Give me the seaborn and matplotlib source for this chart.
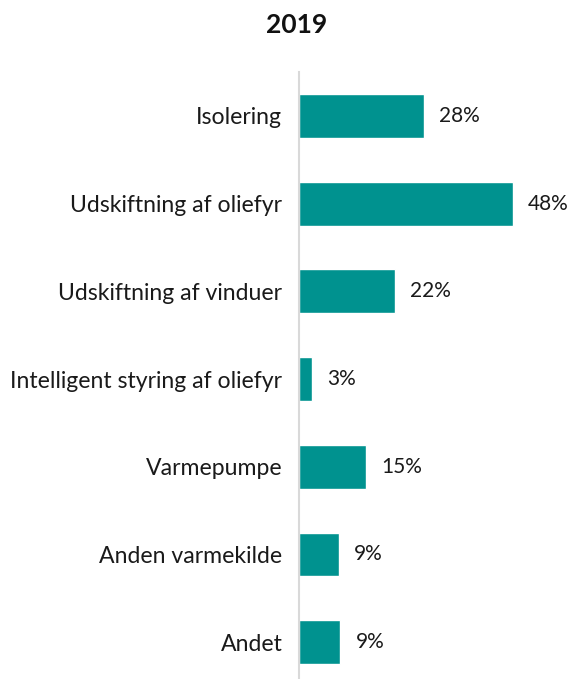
import numpy as np
import matplotlib
matplotlib.use("Agg")
import matplotlib.pyplot as plt
import seaborn as sns
import pandas as pd

# Data
categories = [
    "Isolering",
    "Udskiftning af oliefyr",
    "Udskiftning af vinduer",
    "Intelligent styring af oliefyr",
    "Varmepumpe",
    "Anden varmekilde",
    "Andet",
]
shares = [28, 48, 21.6, 3, 15, 9, 9.3]
share_labels = ["28%", "48%", "22%", "3%", "15%", "9%", "9%"]
title = "2019"

sns.set_style("white")
plt.rcParams["font.family"] = ["Lato", "DejaVu Sans"]

bar_color = "#00928F"

fig = plt.figure(figsize=(5.71, 6.79), dpi=100)
ax = fig.add_axes([299 / 571, 0, 272 / 571, 607 / 679])

df = pd.DataFrame({"category": categories, "share": shares})
sns.barplot(data=df, x="share", y="category", color=bar_color,
            saturation=1, width=0.5, ax=ax, orient="h")

ax.set_xlim(0, 61)
ax.set_ylim(6.42, -0.5)

# value labels to the right of each bar
for i, (v, lab) in enumerate(zip(shares, share_labels)):
    ax.text(v + 3.4, i, lab, va="center", ha="left", fontsize=15, color="#1a1a1a")

ax.set_xlabel("")
ax.set_ylabel("")
ax.set_xticks([])
ax.tick_params(axis="y", length=0, pad=12, labelsize=16.6, labelcolor="#1a1a1a")

for side in ["top", "right", "bottom"]:
    ax.spines[side].set_visible(False)
ax.spines["left"].set_color("#d9d9d9")
ax.spines["left"].set_linewidth(1.5)

fig.text(297 / 571, 1 - 25 / 679, title, ha="center", va="center",
         fontsize=19, fontweight="bold", color="#111111")

fig.savefig("out.png", dpi=100)
